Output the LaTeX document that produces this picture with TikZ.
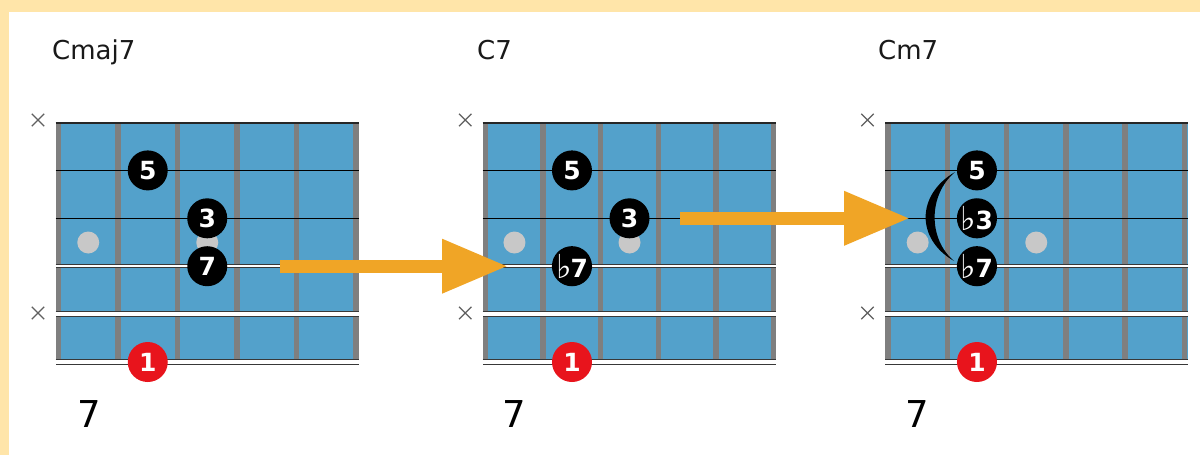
\documentclass[tikz,border=0pt]{standalone}
\usepackage{fontspec}
\setmainfont{DejaVu Sans}
\newfontfamily\flatfont{DejaVu Sans}
\usetikzlibrary{arrows.meta,shapes.misc}
\definecolor{cream}{HTML}{FFE5A9}
\definecolor{board}{HTML}{53A1CB}
\definecolor{fretgray}{HTML}{7F7F7F}
\definecolor{inlay}{HTML}{C8C8C8}
\definecolor{rootred}{HTML}{E8141C}
\definecolor{arroworange}{HTML}{F0A526}
\definecolor{stredge}{HTML}{383838}
\definecolor{xgray}{HTML}{606060}
\newcommand\flt{{\flatfont\mdseries\fontsize{33}{33}\selectfont\raisebox{-1pt}{♭}}\kern-1pt}
\tikzset{
  fing/.style={circle, fill=black, inner sep=0pt, minimum size=40pt, text=white,
    font=\fontsize{25}{25}\selectfont\bfseries},
  rootdot/.style={fing, fill=rootred},
  inlaydot/.style={circle, fill=inlay, inner sep=0pt, minimum size=22pt},
  xmark/.style={cross out, draw=xgray, line width=1.3pt, minimum size=11pt, inner sep=0pt},
  chordname/.style={anchor=base west, inner sep=0pt, text=black!90, font=\fontsize{26}{26}\selectfont},
  fretnum/.style={anchor=base west, inner sep=0pt, text=black, font=\fontsize{37}{37}\selectfont},
  fretbar/.style={fretgray, line width=5.5pt},
  thinstr/.style={black, line width=1.3pt},
  topstr/.style={black!85, line width=2pt},
  woundstr/.style={draw=stredge, line width=1pt, double=white, double distance=#1},
  bigarrow/.style={arroworange, line width=13pt, -{Triangle[length=66pt,width=51pt]}},
}
% #1 prefix, #2 first fret-bar x, #3 last fret-bar x
\newcommand\fretboard[3]{%
  \pgfmathsetmacro\fbd{(#3-#2)/5}%
  \fill[board] (#2-3,122.5) rectangle (#3+3,362);
  \foreach \i in {0,...,5} \draw[fretbar] ({#2+\i*\fbd},122.5) -- ({#2+\i*\fbd},362);
  \foreach \f in {1,...,5} \foreach \s in {1,...,6}
    \coordinate (#1-\f-\s) at ({#2+(\f-0.5)*\fbd},{122.5+(\s-1)*47.9});
  \node[inlaydot] (#1-inA) at ({#2+0.5*\fbd},242.5) {};
  \node[inlaydot] (#1-inB) at ({#2+2.5*\fbd},242.5) {};
  \draw[topstr] (#2-3,122.5) -- (#3+3,122.5);
  \draw[thinstr] (#2-3,170.4) -- (#3+3,170.4);
  \draw[thinstr] (#2-3,218.3) -- (#3+3,218.3);
  \draw[woundstr=2.4pt] (#2-3,266.2) -- (#3+3,266.2);
  \draw[woundstr=3.4pt] (#2-3,314.1) -- (#3+3,314.1);
  \draw[woundstr=4.8pt] (#2-3,362) -- (#3+3,362);
  \node[xmark] (#1-xa) at (#2-20.5,120) {};
  \node[xmark] (#1-xb) at (#2-20.5,313) {};
}
\begin{document}
\begin{tikzpicture}[x=1pt,y=-1pt]
\useasboundingbox (0,0) rectangle (1200,455);
\fill[cream] (0,0) rectangle (1200,455);
\fill[white] (9,12) rectangle (1200,455);

% ---- Cmaj7 ----
\node[chordname] (n1) at (52,59) {Cmaj7};
\fretboard{a}{58.5}{356}
\node[fing] (a5) at (a-2-2) {5};
\node[fing] (a3) at (a-3-3) {3};
\node[fing] (a7) at (a-3-4) {7};
\node[rootdot] (a1) at (a-2-6) {1};
\node[fretnum] (f1) at (77,427) {7};

% ---- C7 ----
\node[chordname] (n2) at (477,59) {C7};
\fretboard{b}{485.7}{773.3}
\node[fing] (b5) at (b-2-2) {5};
\node[fing] (b3) at (b-3-3) {3};
\node[fing] (b7) at (b-2-4) {\flt 7};
\node[rootdot] (b1) at (b-2-6) {1};
\node[fretnum] (f2) at (502,427) {7};

% ---- Cm7 ----
\node[chordname] (n3) at (878,59) {Cm7};
\fretboard{c}{888}{1184.5}
\node[fing] (c5) at (c-2-2) {5};
\node[fing] (c3) at (c-2-3) {\flt 3};
\node[fing] (c7) at (c-2-4) {\flt 7};
\node[rootdot] (c1) at (c-2-6) {1};
\node[fretnum] (f3) at (905,427) {7};
% bracket
\fill[black] (955,172) .. controls (916,195) and (916,239) .. (954,261)
  .. controls (928,239) and (928,195) .. (955,172) -- cycle;

% ---- arrows ----
\coordinate (ar1s) at (280,266.2);
\coordinate (ar1e) at (508,266.2);
\coordinate (ar2s) at (680,218.3);
\coordinate (ar2e) at (910,218.3);
\draw[bigarrow] (ar1s) -- (ar1e);
\draw[bigarrow] (ar2s) -- (ar2e);
\end{tikzpicture}
\end{document}
